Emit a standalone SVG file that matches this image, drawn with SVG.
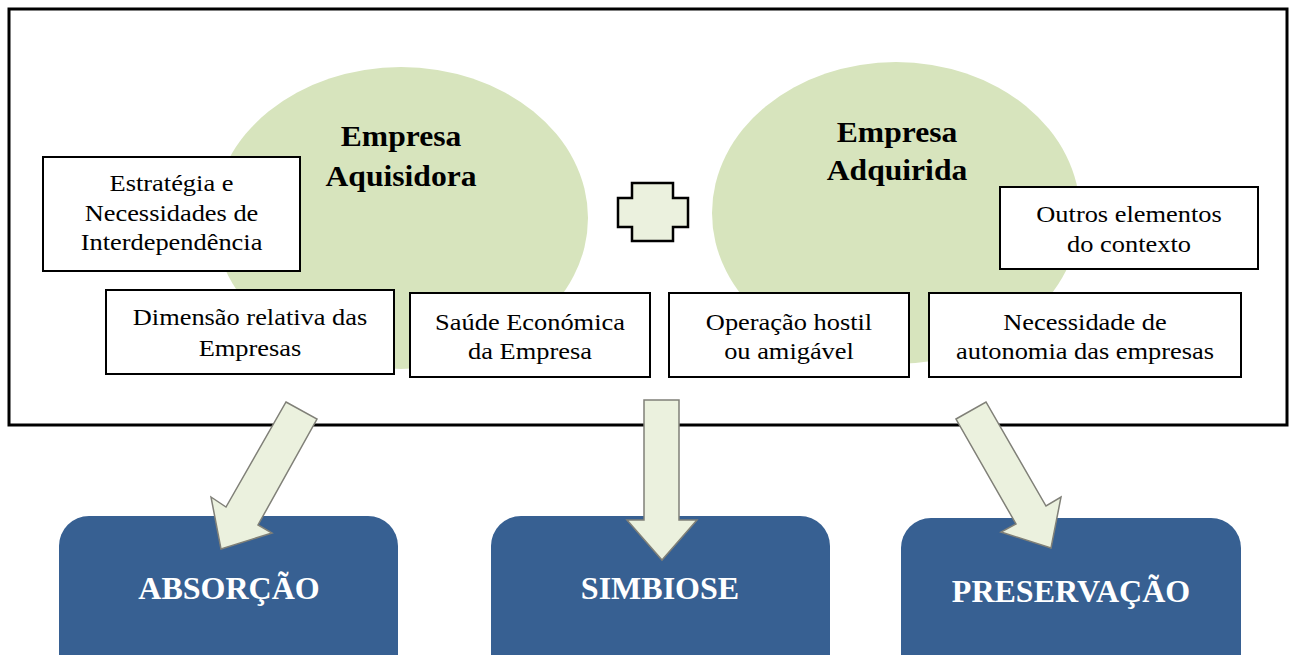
<svg xmlns="http://www.w3.org/2000/svg" width="1289" height="655" viewBox="0 0 1289 655">
  <style>
    .frame { fill: #ffffff; stroke: #000000; stroke-width: 3; }
    .blob { fill: #d7e4bd; }
    .box { fill: #ffffff; stroke: #000000; stroke-width: 2; }
    .plus { fill: #ebf1de; stroke: #000000; stroke-width: 2.5; stroke-linejoin: miter; }
    .arrow { fill: #ebf1de; stroke: #808078; stroke-width: 1.5; stroke-linejoin: miter; }
    .result { fill: #376092; }
    .txt { font-family: "Liberation Serif", "Times New Roman", serif; font-size: 24px; fill: #000000; text-anchor: middle; }
    .title { font-family: "Liberation Serif", "Times New Roman", serif; font-size: 29px; font-weight: bold; fill: #000000; text-anchor: middle; }
    .label { font-family: "Liberation Serif", "Times New Roman", serif; font-size: 32px; font-weight: bold; fill: #ffffff; text-anchor: middle; }
  </style>

  <rect id="frame" class="frame" x="9" y="9" width="1278" height="416"/>

  <g id="empresa-aquisidora">
    <ellipse class="blob" cx="401" cy="218" rx="187" ry="151"/>
    <g transform="translate(401 0) scale(1.09 1)">
      <text class="title" x="0" y="146">Empresa</text>
      <text class="title" x="0" y="186">Aquisidora</text>
    </g>
  </g>

  <g id="empresa-adquirida">
    <ellipse class="blob" cx="896" cy="213" rx="184" ry="151"/>
    <g transform="translate(897 0) scale(1.09 1)">
      <text class="title" x="0" y="142">Empresa</text>
      <text class="title" x="0" y="180">Adquirida</text>
    </g>
  </g>

  <g id="plus">
    <path class="plus" d="M632 183 H673 V198 H688 V227 H673 V241 H632 V227 H618 V198 H632 Z"/>
  </g>

  <g id="estrategia">
    <rect class="box" x="43" y="157" width="257" height="114"/>
    <g transform="translate(171.5 0) scale(1.1 1)">
      <text class="txt" x="0" y="191">Estratégia e</text>
      <text class="txt" x="0" y="221">Necessidades de</text>
      <text class="txt" x="0" y="250">Interdependência</text>
    </g>
  </g>

  <g id="dimensao">
    <rect class="box" x="106" y="290" width="288" height="84"/>
    <g transform="translate(250 0) scale(1.1 1)">
      <text class="txt" x="0" y="325">Dimensão relativa das</text>
      <text class="txt" x="0" y="356">Empresas</text>
    </g>
  </g>

  <g id="saude">
    <rect class="box" x="410" y="293" width="240" height="84"/>
    <g transform="translate(530 0) scale(1.1 1)">
      <text class="txt" x="0" y="330">Saúde Económica</text>
      <text class="txt" x="0" y="359">da Empresa</text>
    </g>
  </g>

  <g id="operacao">
    <rect class="box" x="669" y="293" width="240" height="84"/>
    <g transform="translate(789 0) scale(1.1 1)">
      <text class="txt" x="0" y="330">Operação hostil</text>
      <text class="txt" x="0" y="359">ou amigável</text>
    </g>
  </g>

  <g id="autonomia">
    <rect class="box" x="929" y="293" width="312" height="84"/>
    <g transform="translate(1085 0) scale(1.1 1)">
      <text class="txt" x="0" y="330">Necessidade de</text>
      <text class="txt" x="0" y="359">autonomia das empresas</text>
    </g>
  </g>

  <g id="outros">
    <rect class="box" x="1000" y="187" width="258" height="82"/>
    <g transform="translate(1129 0) scale(1.1 1)">
      <text class="txt" x="0" y="222">Outros elementos</text>
      <text class="txt" x="0" y="252">do contexto</text>
    </g>
  </g>

  <g id="absorcao">
    <rect class="result" x="59" y="516" width="339" height="170" rx="30" ry="30"/>
    <text class="label" x="229" y="599">ABSORÇÃO</text>
  </g>

  <g id="simbiose">
    <rect class="result" x="491" y="516" width="339" height="170" rx="30" ry="30"/>
    <text class="label" x="660" y="599">SIMBIOSE</text>
  </g>

  <g id="preservacao">
    <rect class="result" x="901" y="518" width="340" height="170" rx="30" ry="30"/>
    <text class="label" x="1071" y="602">PRESERVAÇÃO</text>
  </g>

  <g id="connectors">
    <path class="arrow" d="M286 402 L317 419 L258 525 L272 533 L221 549 L211 497 L226 507 Z"/>
    <path class="arrow" d="M644 400 H679 V520 H697 L662 560 L627 520 H644 Z"/>
    <path class="arrow" d="M956 419 L986 402 L1046 506 L1061 497 L1051 548 L1001 532 L1016 524 Z"/>
  </g>
</svg>
